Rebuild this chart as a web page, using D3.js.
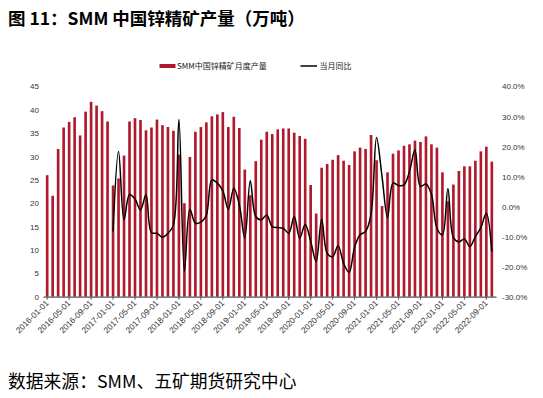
<!DOCTYPE html>
<html><head><meta charset="utf-8">
<script src="https://cdn.jsdelivr.net/npm/d3@7"></script>
<style>
html,body{margin:0;padding:0;background:#fff;}
svg{display:block;}
</style></head>
<body>
<svg id="c" width="543" height="398"></svg>
<script>
// ---- data ----
const months = d3.timeMonth.range(new Date(2016,0,1), new Date(2022,10,1)).map(d3.timeFormat("%Y-%m-01"));
const production = [
 26.0,21.6,31.6,36.2,37.4,38.4,34.5,39.6,41.7,40.9,39.7,37.5,
 23.8,25.3,30.2,37.5,38.2,37.8,35.6,36.2,37.9,36.7,36.3,35.5,
 30.4,20.0,29.9,35.3,36.3,37.3,38.6,39.0,39.5,36.3,38.5,36.1,
 27.2,21.7,29.0,33.6,35.3,34.8,35.8,36.0,36.0,35.1,34.4,33.8,
 23.9,17.8,27.6,28.4,29.3,30.3,29.1,28.2,31.1,31.9,31.6,34.6,
 29.2,19.4,26.6,30.6,31.3,32.3,32.6,33.4,33.1,34.3,32.6,31.9,
 26.6,20.4,24.0,26.9,27.9,27.9,29.1,31.1,32.1,28.9
];
// YoY % from 2017-01
const yoyMonths = months.slice(12);
const yoy = [
 -8.3,18.3,-4.4,4.0,2.5,-1.1,3.9,-8.7,-8.9,-10.2,-8.9,-6.1,
 29.0,-21.5,-1.0,-5.5,-5.2,-2.8,8.9,7.8,5.2,-0.9,6.1,0.6,
 -10.5,8.6,-3.3,-4.4,-2.8,-6.7,-7.0,-7.2,-8.9,-3.3,-10.5,-5.9,
 -11.5,-18.3,-4.2,-15.5,-16.7,-13.0,-18.9,-21.9,-13.5,-9.4,-8.3,-2.5,
 23.0,10.0,-3.7,7.8,7.0,7.2,11.7,18.9,6.7,7.5,4.1,-7.2,
 -9.4,5.9,-10.3,-11.7,-10.8,-13.3,-10.0,-7.0,-2.2,-15.0
];
const leftTicks = [0,5,10,15,20,25,30,35,40,45];
const rightTicks = [-30,-20,-10,0,10,20,30,40];
const xTickLabels = months.filter((d,i)=>i%4===0);
const title = "图 11：SMM 中国锌精矿产量（万吨）";
const source = "数据来源：SMM、五矿期货研究中心";
const seriesNames = ["SMM中国锌精矿月度产量","当月同比"];

// ---- layout ----
const svg = d3.select("#c");
const L = 43, R = 496, T = 86.4, B = 296.7;
const barColor = "#b0182b";
const axisFont = "'Liberation Sans', Arial, sans-serif";
const cjkFont = "'Noto Sans CJK SC', 'Noto Sans', sans-serif";

const x = d3.scaleBand().domain(months).range([L, R]).padding(0.52);
const xc = d => x(d) + x.bandwidth()/2;
const yL = d3.scaleLinear().domain([0,45]).range([B, T]);
const yR = d3.scaleLinear().domain([-30,40]).range([B, T]);

// title
svg.append("text").attr("x",8).attr("y",25).text(title)
  .attr("font-family",cjkFont).attr("font-weight","bold").attr("font-size",17.5).attr("fill","#000");

// bars
svg.append("g").selectAll("rect").data(production).join("rect")
  .attr("x",(d,i)=>x(months[i])).attr("width",x.bandwidth())
  .attr("y",d=>yL(d)).attr("height",d=>yL(0)-yL(d))
  .attr("fill",barColor);

// x axis
const xAxis = d3.axisBottom(x).tickValues(xTickLabels).tickSize(3).tickSizeOuter(0);
const gx = svg.append("g").attr("transform",`translate(0,${B})`).call(xAxis);
gx.select(".domain").attr("stroke","#555").attr("stroke-width",1.2);
gx.selectAll(".tick line").attr("stroke","#555");
gx.selectAll(".tick text")
  .attr("font-family",axisFont).attr("font-size",8.3).attr("fill","#333")
  .attr("text-anchor","end").attr("dy",null).attr("y",0)
  .attr("transform","translate(2,7) rotate(-45)");

// left axis
const gl = svg.append("g").attr("transform",`translate(${L+2},0)`)
  .call(d3.axisLeft(yL).tickValues(leftTicks).tickSize(0).tickPadding(6));
gl.select(".domain").remove();
gl.selectAll("text").attr("font-family",axisFont).attr("font-size",8).attr("fill","#333");

// right axis
const gr = svg.append("g").attr("transform",`translate(${R},0)`)
  .call(d3.axisRight(yR).tickValues(rightTicks).tickSize(0).tickPadding(6).tickFormat(d=>d.toFixed(1)+"%"));
gr.select(".domain").remove();
gr.selectAll("text").attr("font-family",axisFont).attr("font-size",8).attr("fill","#333");

// line
const line = d3.line().x((d,i)=>xc(yoyMonths[i])).y(d=>yR(d)).curve(d3.curveCatmullRom.alpha(0.5));
svg.append("path").datum(yoy).attr("d",line).attr("fill","none")
  .attr("stroke","#000").attr("stroke-width",1.5);

// legend
const lg = svg.append("g");
lg.append("rect").attr("x",159.5).attr("y",64).attr("width",16).attr("height",4).attr("fill",barColor);
lg.append("text").attr("x",177).attr("y",69).text(seriesNames[0])
  .attr("font-family",cjkFont).attr("font-size",8).attr("fill","#222");
lg.append("line").attr("x1",300.5).attr("x2",317).attr("y1",66).attr("y2",66).attr("stroke","#000").attr("stroke-width",1.5);
lg.append("text").attr("x",319.5).attr("y",69).text(seriesNames[1])
  .attr("font-family",cjkFont).attr("font-size",8).attr("fill","#222");

// source
svg.append("text").attr("x",8).attr("y",388).text(source)
  .attr("font-family",cjkFont).attr("font-size",17.8).attr("fill","#000");
</script>
</body></html>
